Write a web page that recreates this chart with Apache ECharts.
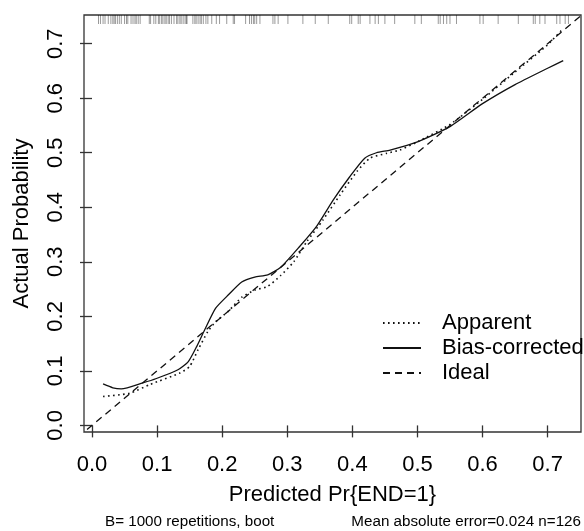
<!DOCTYPE html>
<html>
<head>
<meta charset="utf-8">
<script src="https://cdn.jsdelivr.net/npm/echarts@6/dist/echarts.min.js"></script>
<style>
  html, body { margin: 0; padding: 0; background: #fff; }
  #chart { width: 584px; height: 531px; }
</style>
</head>
<body>
<div id="chart"></div>
<script>
// calibration curve
var tickValues = [0, 0.1, 0.2, 0.3, 0.4, 0.5, 0.6, 0.7];

var apparentX = [0.017, 0.058, 0.089, 0.135, 0.150, 0.163, 0.178, 0.19, 0.21, 0.23, 0.25, 0.27, 0.29, 0.31, 0.33, 0.355, 0.381, 0.407, 0.427, 0.453, 0.473, 0.5, 0.55, 0.6, 0.65, 0.7, 0.724];
var apparentY = [0.053, 0.059, 0.075, 0.096, 0.108, 0.139, 0.172, 0.19, 0.21, 0.235, 0.248, 0.255, 0.275, 0.30, 0.337, 0.377, 0.4225, 0.4655, 0.49, 0.499, 0.505, 0.52, 0.552, 0.598, 0.648, 0.698, 0.728];

var biasX = [0.017, 0.032, 0.045, 0.078, 0.099, 0.132, 0.148, 0.161, 0.173, 0.19, 0.21, 0.23, 0.25, 0.27, 0.29, 0.319, 0.345, 0.371, 0.396, 0.419, 0.437, 0.458, 0.5, 0.55, 0.6, 0.65, 0.7, 0.724];
var biasY = [0.076, 0.069, 0.067, 0.078, 0.086, 0.102, 0.117, 0.145, 0.175, 0.215, 0.24, 0.263, 0.272, 0.276, 0.29, 0.328, 0.365, 0.414, 0.456, 0.49, 0.500, 0.505, 0.52, 0.548, 0.59, 0.625, 0.655, 0.669];

var idealX = [-0.05, 0.8];
var idealY = [-0.05, 0.8];

// rug of predicted values (top)
var rugX = [0.010, 0.013, 0.017, 0.020, 0.025, 0.029, 0.032, 0.034, 0.036, 0.039, 0.042, 0.045, 0.050, 0.053, 0.055, 0.060,
  0.063, 0.066, 0.068, 0.071, 0.074, 0.088, 0.090, 0.095, 0.098, 0.102, 0.104, 0.107, 0.109, 0.112, 0.114, 0.117, 0.119,
  0.122, 0.126, 0.130, 0.132, 0.135, 0.137, 0.140, 0.143, 0.145, 0.146, 0.155, 0.158, 0.160, 0.163, 0.166, 0.168, 0.171,
  0.175, 0.178, 0.184, 0.191, 0.196, 0.207, 0.217, 0.219, 0.236, 0.242, 0.245, 0.248, 0.250, 0.253, 0.258, 0.278, 0.281,
  0.286, 0.301, 0.324, 0.343, 0.363, 0.396, 0.399, 0.409, 0.412, 0.427, 0.435, 0.440, 0.450, 0.465, 0.496, 0.506, 0.532,
  0.535, 0.540, 0.545, 0.550, 0.560, 0.596, 0.601, 0.624, 0.655, 0.678, 0.681, 0.688, 0.696, 0.714, 0.719, 0.727, 0.732];

var xName = 'Predicted Pr{END=1}';
var yName = 'Actual Probability';
var subLeft = 'B= 1000 repetitions, boot';
var subRight = 'Mean absolute error=0.024 n=126';

function pairs(xs, ys) {
    var out = [];
    for (var i = 0; i < xs.length; i++) {
        out.push([xs[i], ys[i]]);
    }
    return out;
}

var sFont = 'Liberation Sans, Arial, Helvetica, sans-serif';
var sInk = '#111';

var jOption = {
    animation: false,
    color: [sInk, sInk, sInk, sInk],
    textStyle: { fontFamily: sFont },
    grid: {
        left: 84, top: 15, width: 497, height: 417,
        show: true, borderColor: '#333', borderWidth: 1.3, backgroundColor: '#fff'
    },
    legend: {
        orient: 'vertical',
        left: 377, top: 307,
        itemWidth: 38, itemHeight: 14, itemGap: 3,
        itemStyle: { opacity: 0, borderWidth: 0 },
        textStyle: { fontSize: 22, color: '#000', padding: [0, 0, 0, 16] },
        data: ['Apparent', 'Bias-corrected', 'Ideal']
    },
    xAxis: {
        type: 'value',
        min: -0.0123, max: 0.7513,
        name: xName, nameLocation: 'middle', nameGap: 52,
        nameTextStyle: { fontSize: 22, color: '#000' },
        splitLine: { show: false },
        axisLine: { show: false },
        axisTick: { show: true, length: 12, customValues: tickValues, lineStyle: { color: '#333', width: 1.3 } },
        axisLabel: {
            customValues: tickValues, fontSize: 22, color: '#000', margin: 22,
            formatter: function (v) { return v.toFixed(1); }
        }
    },
    yAxis: {
        type: 'value',
        min: -0.0121, max: 0.7526,
        name: yName, nameLocation: 'middle', nameGap: 51, nameRotate: 90,
        nameTextStyle: { fontSize: 22, color: '#000' },
        splitLine: { show: false },
        axisLine: { show: false },
        axisTick: { show: true, length: 12, customValues: tickValues, lineStyle: { color: '#333', width: 1.3 } },
        axisLabel: {
            customValues: tickValues, fontSize: 22, color: '#000', margin: 17, rotate: 90,
            formatter: function (v) { return v.toFixed(1); }
        }
    },
    graphic: [
        { type: 'text', left: 105, top: 514, style: { text: subLeft, fontSize: 15.2, fill: '#000', fontFamily: sFont } },
        { type: 'text', right: 3, top: 514, style: { text: subRight, fontSize: 15.2, fill: '#000', fontFamily: sFont } }
    ],
    series: [
        {
            name: 'Apparent', type: 'line', data: pairs(apparentX, apparentY),
            showSymbol: false, symbol: 'none', smooth: 0.2,
            lineStyle: { color: sInk, width: 1.6, type: [1.6, 3.4] }
        },
        {
            name: 'Bias-corrected', type: 'line', data: pairs(biasX, biasY),
            showSymbol: false, symbol: 'none', smooth: 0.2,
            lineStyle: { color: sInk, width: 1.3, type: 'solid' }
        },
        {
            name: 'Ideal', type: 'line', data: pairs(idealX, idealY),
            showSymbol: false, symbol: 'none', clip: true,
            lineStyle: { color: sInk, width: 1.3, type: [7, 5] }
        },
        {
            name: 'rug', type: 'custom', data: rugX.map(function (v) { return [v, 0]; }),
            encode: { x: 0, y: 1 }, silent: true,
            renderItem: function (params, api) {
                var p = api.coord([api.value(0), 0]);
                var top = params.coordSys.y;
                return {
                    type: 'line',
                    shape: { x1: p[0], y1: top, x2: p[0], y2: top + 9 },
                    style: { stroke: 'rgba(0,0,0,0.4)', lineWidth: 1 }
                };
            }
        }
    ]
};

var myChart = echarts.init(document.getElementById('chart'));
myChart.setOption(jOption);
</script>
</body>
</html>
